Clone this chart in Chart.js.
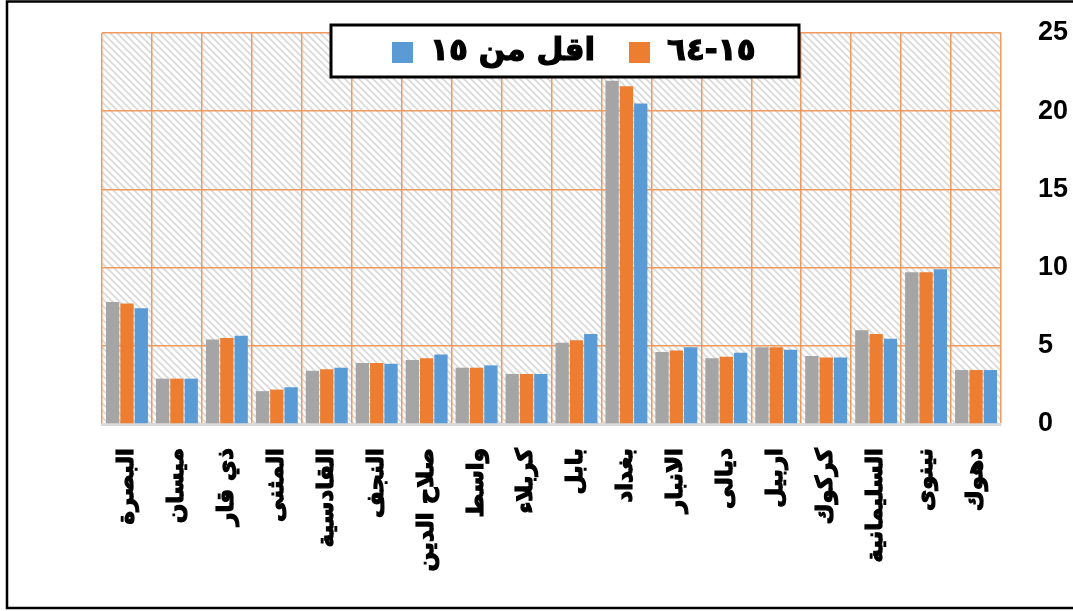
<!DOCTYPE html>
<html>
<head>
<meta charset="utf-8">
<script src="https://cdn.jsdelivr.net/npm/chart.js@4"></script>
<style>
  html, body { margin: 0; padding: 0; background: #fff; }
  #wrap { width: 1073px; height: 611px; }
</style>
</head>
<body>
<div id="wrap"><canvas id="popChart"></canvas></div>
<script>
// المحافظات من اليسار الى اليمين كما في الرسم
const provinces = ["البصرة", "ميسان", "ذي قار", "المثنى", "القادسية", "النجف", "صلاح الدين", "واسط", "كربلاء",
  "بابل", "بغداد", "الانبار", "ديالى", "اربيل", "كركوك", "السليمانية", "نينوى", "دهوك"];

const age65plus = [7.8, 2.9, 5.4, 2.1, 3.4, 3.9, 4.1, 3.6, 3.2, 5.2, 21.95, 4.6, 4.2, 4.9, 4.35, 6.0, 9.7, 3.45];
const age15to64 = [7.7, 2.9, 5.5, 2.2, 3.5, 3.9, 4.2, 3.6, 3.2, 5.35, 21.6, 4.7, 4.3, 4.9, 4.25, 5.75, 9.7, 3.45];
const ageUnder15 = [7.4, 2.9, 5.65, 2.35, 3.6, 3.85, 4.45, 3.75, 3.2, 5.75, 20.5, 4.9, 4.55, 4.75, 4.25, 5.45, 9.9, 3.45];

const yTicks = [0, 5, 10, 15, 20, 25];

const seriesLabels = ["٦٥ فأكثر", "١٥-٦٤", "اقل من ١٥"];
const seriesColors = ["#A5A5A5", "#ED7D31", "#5B9BD5"];
const inLegend = [false, true, true];

// خلفية مخططة
function makeHatch() {
  const c = document.createElement("canvas");
  c.width = 7; c.height = 7;
  const g = c.getContext("2d");
  g.fillStyle = "#fff";
  g.fillRect(0, 0, 7, 7);
  g.strokeStyle = "#dadada";
  g.lineWidth = 1.8;
  g.beginPath();
  g.moveTo(-1, -1); g.lineTo(8, 8);
  g.moveTo(-1, 6); g.lineTo(1, 8);
  g.moveTo(6, -1); g.lineTo(8, 1);
  g.stroke();
  return g.createPattern(c, "repeat");
}

const bgPlugin = {
  id: "hatchBg",
  beforeDraw(chart) {
    const { ctx, chartArea: a } = chart;
    ctx.save();
    ctx.fillStyle = makeHatch();
    ctx.fillRect(a.left, a.top, a.right - a.left, a.bottom - a.top);
    ctx.restore();
  }
};

// وسيلة الايضاح داخل مربع بحدود سوداء + اطار خارجي
const boxLegend = {
  id: "boxLegend",
  afterDraw(chart) {
    const ctx = chart.ctx;
    ctx.save();
    ctx.strokeStyle = "#000";
    ctx.lineWidth = 2.5;
    ctx.strokeRect(7, 1.5, 1080, 606.5);

    ctx.fillStyle = "#fff";
    ctx.fillRect(331, 25, 468, 52);
    ctx.lineWidth = 3;
    ctx.strokeRect(331, 25, 468, 52);

    ctx.font = "bold 31px 'DejaVu Sans'";
    ctx.textBaseline = "middle";
    ctx.textAlign = "left";
    ctx.direction = "rtl";
    ctx.lineWidth = 1.2;
    const boxLeft = [629, 392];
    let k = 0;
    chart.data.datasets.forEach((ds, i) => {
      if (!inLegend[i]) return;
      const x = boxLeft[k];
      ctx.fillStyle = ds.backgroundColor;
      ctx.fillRect(x, 42, 21, 21);
      ctx.fillStyle = "#000";
      ctx.fillText(ds.label, x + 38, 52);
      ctx.strokeText(ds.label, x + 38, 52);
      k++;
    });
    ctx.restore();
  }
};

const ctx = document.getElementById("popChart").getContext("2d");
new Chart(ctx, {
  type: "bar",
  data: {
    labels: provinces,
    datasets: [age65plus, age15to64, ageUnder15].map((d, i) => ({
      label: seriesLabels[i],
      data: d,
      backgroundColor: seriesColors[i],
      barPercentage: 0.93,
      categoryPercentage: 0.86
    }))
  },
  options: {
    responsive: true,
    maintainAspectRatio: false,
    animation: false,
    layout: { padding: { left: 102, top: 33, right: 0, bottom: 0 } },
    plugins: {
      legend: { display: false },
      tooltip: { enabled: false }
    },
    scales: {
      x: {
        grid: { color: "#F09A5E", lineWidth: 1.5, drawTicks: false },
        border: { display: true, color: "#D9D9D9", width: 3 },
        ticks: {
          minRotation: 90,
          maxRotation: 90,
          padding: 24,
          color: "#000",
          textStrokeColor: "#000",
          textStrokeWidth: 1.2,
          font: { family: "'DejaVu Sans'", size: 23, weight: "bold" }
        },
        afterFit: s => { s.height = 187; }
      },
      y: {
        position: "right",
        min: 0,
        max: 25,
        grid: { color: "#F09A5E", lineWidth: 1.5, drawTicks: true, tickLength: 33, tickColor: "rgba(0,0,0,0)" },
        border: { display: false },
        afterBuildTicks: s => { s.ticks = yTicks.map(v => ({ value: v })); },
        ticks: {
          padding: 4,
          color: "#000",
          font: { family: "'Liberation Sans'", size: 27, weight: "bold" }
        },
        afterFit: s => { s.width = 72; }
      }
    }
  },
  plugins: [bgPlugin, boxLegend]
});
</script>
</body>
</html>
